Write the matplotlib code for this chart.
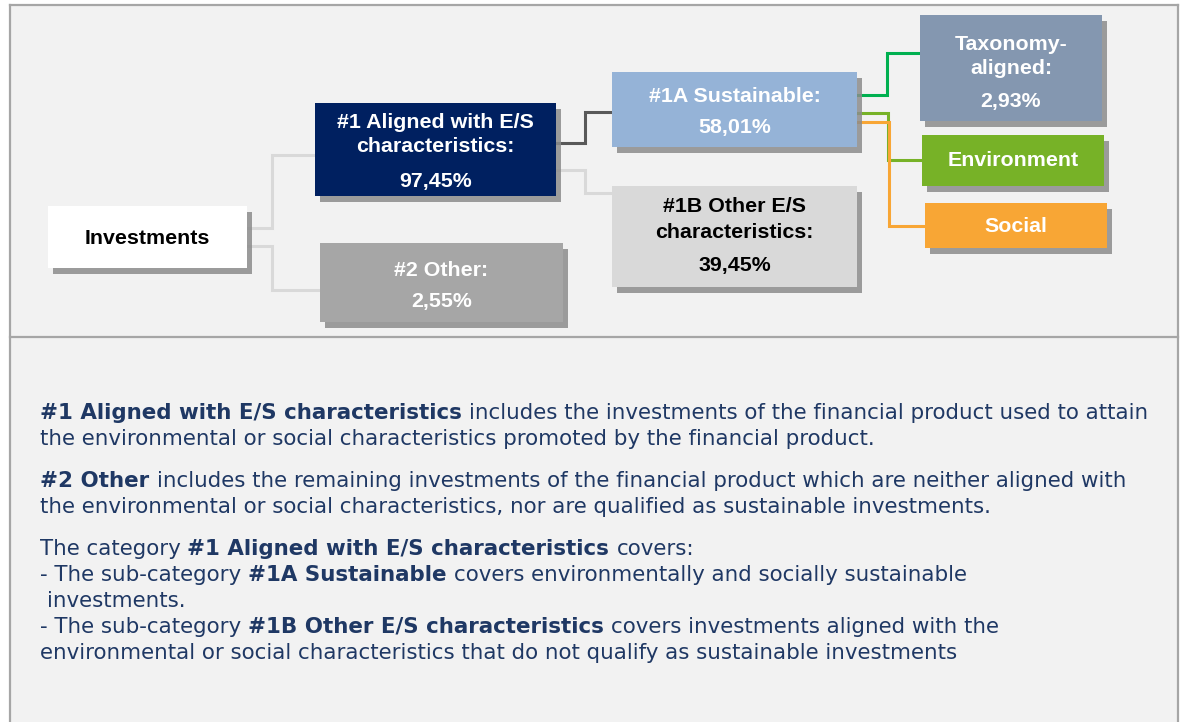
import matplotlib
matplotlib.use("Agg")
import matplotlib.pyplot as plt
from matplotlib.patches import Rectangle

# ---------------- data ----------------
aligned_pct = 97.45
other_pct = 2.55
sustainable_pct = 58.01
other_es_pct = 39.45
taxonomy_pct = 2.93

box_titles = {
    "inv": "Investments",
    "aligned": "#1 Aligned with E/S\ncharacteristics:",
    "other": "#2 Other:",
    "sust": "#1A Sustainable:",
    "other_es": "#1B Other E/S\ncharacteristics:",
    "tax": "Taxonomy-\naligned:",
    "env": "Environment",
    "soc": "Social",
}
box_values = {
    "aligned": aligned_pct,
    "other": other_pct,
    "sust": sustainable_pct,
    "other_es": other_es_pct,
    "tax": taxonomy_pct,
}

paragraphs = [
    [[("#1 Aligned with E/S characteristics ", True), ("includes the investments of the financial product used to attain", False)],
     [("the environmental or social characteristics promoted by the financial product.", False)]],
    [[("#2 Other ", True), ("includes the remaining investments of the financial product which are neither aligned with", False)],
     [("the environmental or social characteristics, nor are qualified as sustainable investments.", False)]],
    [[("The category ", False), ("#1 Aligned with E/S characteristics ", True), ("covers:", False)],
     [("- The sub-category ", False), ("#1A Sustainable ", True), ("covers environmentally and socially sustainable", False)],
     [(" investments.", False)],
     [("- The sub-category ", False), ("#1B Other E/S characteristics ", True), ("covers investments aligned with the", False)],
     [("environmental or social characteristics that do not qualify as sustainable investments", False)]],
]


def fmt(v):
    return f"{v:.2f}%".replace(".", ",")


# ---------------- figure ----------------
W, H = 1183, 722
fig = plt.figure(figsize=(W / 100, H / 100), dpi=100)
fig.patch.set_facecolor("white")
ax = fig.add_axes([0, 0, 1, 1])
ax.set_xlim(0, W)
ax.set_ylim(H, 0)
ax.axis("off")
renderer = fig.canvas.get_renderer()

# panel background and border
ax.add_patch(Rectangle((10, 5), 1168, H - 5, facecolor="#f2f2f2", edgecolor="none", zorder=0))
border = "#a6a6a6"
ax.plot([10, 1178], [5, 5], color=border, lw=1.6, zorder=1)
ax.plot([10, 10], [5, H], color=border, lw=1.6, zorder=1)
ax.plot([1178, 1178], [5, H], color=border, lw=1.6, zorder=1)
ax.plot([10, 1178], [337, 337], color=border, lw=1.6, zorder=1)

# boxes: key -> (x0, y0, x1, y1, face, textcolor)
boxes = {
    "inv": (48, 206, 247, 268, "white", "black"),
    "aligned": (315, 103, 556, 196, "#002060", "white"),
    "other": (320, 243, 563, 322, "#a6a6a6", "white"),
    "sust": (612, 72, 857, 147, "#95b3d7", "white"),
    "other_es": (612, 186, 857, 287, "#d9d9d9", "black"),
    "tax": (920, 15, 1102, 121, "#8497b0", "white"),
    "env": (922, 135, 1104, 186, "#77b227", "white"),
    "soc": (925, 203, 1107, 248, "#f8a635", "white"),
}

# connectors (elbow lines)
def elbow(x0, y0, xm, y1, x1, color):
    ax.plot([x0, xm, xm, x1], [y0, y0, y1, y1], color=color, lw=2.2,
            solid_joinstyle="miter", zorder=2)

light = "#d9d9d9"
elbow(247, 228, 272, 155, 315, light)
elbow(247, 246, 272, 290, 320, light)
elbow(556, 143, 585, 112, 612, "#595959")
elbow(556, 170, 585, 193, 612, light)
elbow(857, 95, 887, 53, 920, "#00b050")
elbow(857, 113, 888, 160, 922, "#77b227")
elbow(857, 122, 889, 226, 925, "#f8a635")

for key, (x0, y0, x1, y1, face, tc) in boxes.items():
    ax.add_patch(Rectangle((x0 + 5, y0 + 6), x1 - x0, y1 - y0,
                           facecolor="#8c8c8c", edgecolor="none", alpha=0.85, zorder=3))
    ax.add_patch(Rectangle((x0, y0), x1 - x0, y1 - y0,
                           facecolor=face, edgecolor="none", zorder=4))

box_font = dict(family="Liberation Sans", weight="bold", fontsize=15.4, zorder=5,
                ha="center", va="center")

# title / value text positions (centre y in pixels)
title_y = {"inv": [239], "aligned": [122, 147], "other": [270], "sust": [96],
           "other_es": [207, 233], "tax": [44, 69], "env": [160], "soc": [226]}
value_y = {"aligned": 181, "other": 302, "sust": 128, "other_es": 265, "tax": 101}

for key, (x0, y0, x1, y1, face, tc) in boxes.items():
    cx = (x0 + x1) / 2
    lines = box_titles[key].split("\n")
    for line, yy in zip(lines, title_y[key]):
        ax.text(cx, yy, line, color=tc, **box_font)
    if key in box_values:
        ax.text(cx, value_y[key], fmt(box_values[key]), color=tc, **box_font)

# explanatory text
txt_color = "#1f3864"
fs = 15.4


def advance(s, bold):
    """Pixel advance of a string, trailing spaces included."""
    kw = dict(fontsize=fs, family="DejaVu Sans", weight="bold" if bold else "normal")
    t1 = ax.text(0, 0, s + "|", **kw)
    t2 = ax.text(0, 0, "|", **kw)
    w = t1.get_window_extent(renderer).width - t2.get_window_extent(renderer).width
    t1.remove()
    t2.remove()
    return w


line_y = [[413, 439], [481, 507], [549, 575, 601, 627, 653]]
for para, ys in zip(paragraphs, line_y):
    for segs, yy in zip(para, ys):
        x = 40.0
        for s, bold in segs:
            lead = len(s) - len(s.lstrip(" "))
            if lead:
                x += advance(" " * lead, bold)
            ax.text(x, yy, s.strip(" "), ha="left", va="center", color=txt_color,
                    fontsize=fs, family="DejaVu Sans",
                    weight="bold" if bold else "normal", zorder=5)
            x += advance(s.lstrip(" "), bold)

fig.savefig("out.png", dpi=100, facecolor="white")
